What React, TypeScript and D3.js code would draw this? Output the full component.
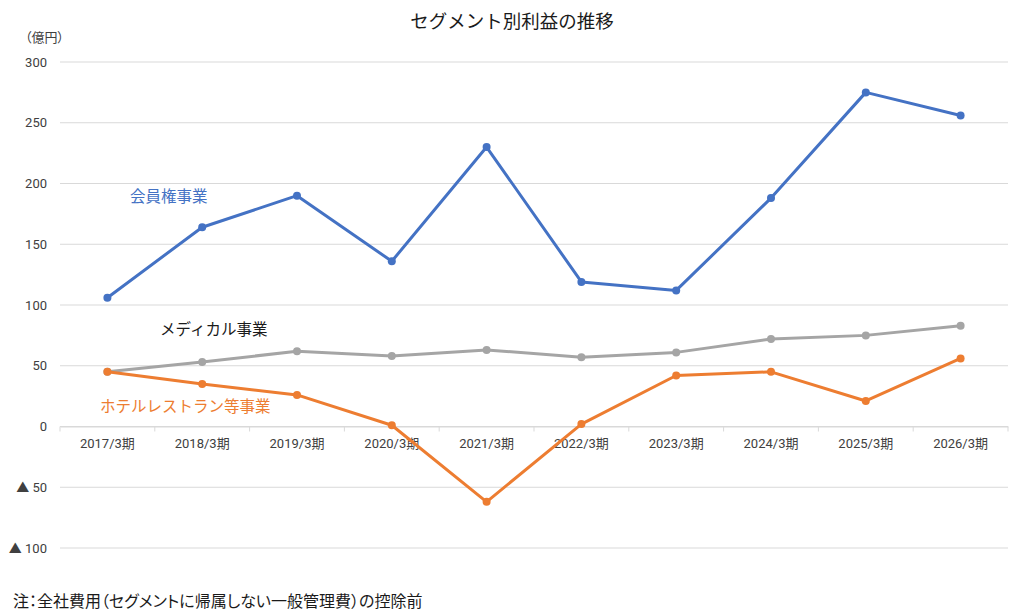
import { useEffect, useRef } from 'react';
import * as d3 from 'd3';

const categories = ['2017/3期', '2018/3期', '2019/3期', '2020/3期', '2021/3期', '2022/3期', '2023/3期', '2024/3期', '2025/3期', '2026/3期'];
const membershipValues = [106, 164, 190, 136, 230, 119, 112, 188, 275, 256];
const medicalValues = [45, 53, 62, 58, 63, 57, 61, 72, 75, 83];
const hotelValues = [45, 35, 26, 1, -62, 2, 42, 45, 21, 56];
const yTicks = [300, 250, 200, 150, 100, 50, 0, -50, -100];

const W = 1024;
const H = 615;
const JP = '"Noto Sans CJK JP", "Noto Sans", sans-serif';
const NUM = 'Roboto, "Noto Sans CJK JP", sans-serif';

export default function App() {
  const svgRef = useRef<SVGSVGElement>(null);

  useEffect(() => {
    if (!svgRef.current) return;
    const svg = d3.select(svgRef.current);
    svg.selectAll('*').remove();

    const left = 60, right = 1008, top = 62, bottom = 548;

    const x = d3.scaleBand<string>().domain(categories).range([left, right]);
    const y = d3.scaleLinear().domain([-100, 300]).range([bottom, top]);
    const cx = (c: string) => (x(c) || 0) + x.bandwidth() / 2;

    // gridlines
    svg.append('g')
      .selectAll('line')
      .data(yTicks)
      .enter().append('line')
      .attr('x1', left).attr('x2', right)
      .attr('y1', d => y(d)).attr('y2', d => y(d))
      .attr('stroke', '#d9d9d9')
      .attr('stroke-width', 1);

    // y labels
    svg.append('g')
      .selectAll('text')
      .data(yTicks)
      .enter().append('text')
      .attr('x', 47)
      .attr('y', d => y(d))
      .attr('dy', '0.35em')
      .attr('text-anchor', 'end')
      .style('font-family', NUM)
      .style('font-size', '13px')
      .style('fill', '#404040')
      .text(d => (d < 0 ? `▲ ${-d}` : `${d}`));

    // category axis on zero line
    const xAxis = svg.append('g')
      .attr('transform', `translate(0,${y(0)})`)
      .call(d3.axisBottom(x).tickSize(0).tickPadding(12));
    xAxis.select('.domain').attr('stroke', '#d9d9d9');
    xAxis.selectAll('text')
      .style('font-family', NUM)
      .style('font-size', '13px')
      .style('fill', '#404040');

    const bounds = [...categories.map(c => x(c) || 0), right];
    svg.append('g')
      .selectAll('line')
      .data(bounds)
      .enter().append('line')
      .attr('x1', d => d).attr('x2', d => d)
      .attr('y1', y(0)).attr('y2', y(0) + 5)
      .attr('stroke', '#d9d9d9');

    const series = [
      { values: medicalValues, color: '#A5A5A5' },
      { values: hotelValues, color: '#ED7D31' },
      { values: membershipValues, color: '#4472C4' },
    ];

    const line = d3.line<number>()
      .x((_, i) => cx(categories[i]))
      .y(d => y(d));

    series.forEach(s => {
      svg.append('path')
        .datum(s.values)
        .attr('fill', 'none')
        .attr('stroke', s.color)
        .attr('stroke-width', 3)
        .attr('stroke-linejoin', 'round')
        .attr('d', line);
      svg.append('g')
        .selectAll('circle')
        .data(s.values)
        .enter().append('circle')
        .attr('cx', (_, i) => cx(categories[i]))
        .attr('cy', d => y(d))
        .attr('r', 4)
        .attr('fill', s.color);
    });

    // series labels
    const labels = [
      { text: '会員権事業', x: 130, y: 197, color: '#4472C4' },
      { text: 'メディカル事業', x: 160, y: 330, color: '#1a1a1a' },
      { text: 'ホテルレストラン等事業', x: 100, y: 407, color: '#ED7D31' },
    ];
    svg.append('g')
      .selectAll('text')
      .data(labels)
      .enter().append('text')
      .attr('x', d => d.x)
      .attr('y', d => d.y)
      .attr('dy', '0.35em')
      .style('font-family', JP)
      .style('font-size', '15.5px')
      .style('fill', d => d.color)
      .text(d => d.text);

    // title
    svg.append('text')
      .attr('x', 512)
      .attr('y', 22)
      .attr('dy', '0.35em')
      .attr('text-anchor', 'middle')
      .style('font-family', JP)
      .style('font-size', '18.5px')
      .style('fill', '#1a1a1a')
      .text('セグメント別利益の推移');

    // unit
    svg.append('text')
      .attr('x', 25)
      .attr('y', 37)
      .attr('dy', '0.35em')
      .style('font-family', JP)
      .style('font-size', '13px')
      .style('font-feature-settings', '"palt"')
      .style('fill', '#404040')
      .text('（億円）');

    // footnote
    svg.append('text')
      .attr('x', 13)
      .attr('y', 601)
      .attr('dy', '0.35em')
      .style('font-family', JP)
      .style('font-size', '16px')
      .style('font-feature-settings', '"palt"')
      .style('fill', '#1a1a1a')
      .text('注：全社費用（セグメントに帰属しない一般管理費）の控除前');
  }, []);

  return (
    <div style={{ position: 'absolute', left: 0, top: 0, width: W, height: H, background: '#fff' }}>
      <svg ref={svgRef} width={W} height={H} />
    </div>
  );
}
